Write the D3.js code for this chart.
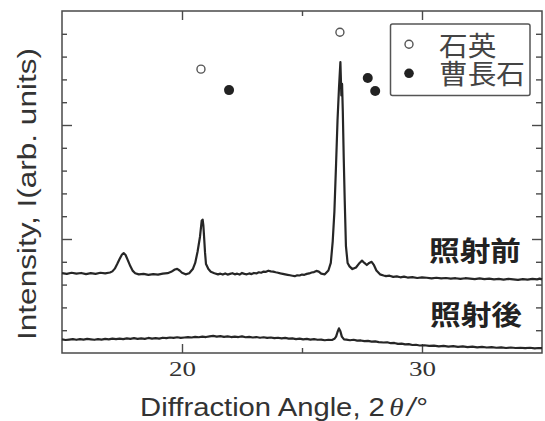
<!DOCTYPE html>
<html>
<head>
<meta charset="utf-8">
<script src="https://cdn.jsdelivr.net/npm/d3@7"></script>
<style>
  html, body { margin: 0; padding: 0; background: #fff; }
  svg { display: block; }
</style>
</head>
<body>
<div id="chart"></div>
<script>
// 照射前 (before irradiation): [2θ, intensity]
const beforeData = [
  [15.0, 3.50], [15.2, 3.47], [15.4, 3.52], [15.6, 3.48], [15.8, 3.51], [16.0, 3.46],
  [16.2, 3.50], [16.4, 3.47], [16.6, 3.52], [16.8, 3.49], [17.0, 3.53], [17.1, 3.58],
  [17.2, 3.70], [17.3, 3.90], [17.4, 4.12], [17.5, 4.32], [17.57, 4.38], [17.65, 4.30],
  [17.75, 4.05], [17.85, 3.80], [17.95, 3.60], [18.05, 3.50], [18.2, 3.45], [18.4, 3.47],
  [18.6, 3.43], [18.8, 3.46], [19.0, 3.44], [19.2, 3.48], [19.4, 3.50], [19.55, 3.56],
  [19.7, 3.66], [19.8, 3.69], [19.9, 3.62], [20.0, 3.52], [20.15, 3.45], [20.3, 3.50],
  [20.45, 3.68], [20.55, 3.95], [20.65, 4.45], [20.75, 5.10], [20.82, 5.80], [20.86, 5.85],
  [20.89, 5.60], [20.92, 5.10], [20.96, 4.40], [21.0, 3.90], [21.1, 3.68], [21.2, 3.56],
  [21.35, 3.50], [21.5, 3.45], [21.6, 3.48], [21.7, 3.44], [21.8, 3.49], [21.9, 3.44],
  [22.0, 3.47], [22.1, 3.50], [22.2, 3.45], [22.3, 3.48], [22.4, 3.44], [22.5, 3.51],
  [22.6, 3.47], [22.7, 3.45], [22.8, 3.49], [22.9, 3.46], [23.0, 3.51], [23.1, 3.49],
  [23.2, 3.54], [23.3, 3.52], [23.4, 3.57], [23.5, 3.56], [23.6, 3.61], [23.7, 3.58],
  [23.8, 3.57], [23.9, 3.54], [24.0, 3.52], [24.1, 3.49], [24.2, 3.47], [24.3, 3.45],
  [24.4, 3.43], [24.5, 3.41], [24.6, 3.39], [24.7, 3.37], [24.8, 3.41], [24.9, 3.40],
  [25.0, 3.44], [25.1, 3.43], [25.2, 3.47], [25.3, 3.49], [25.4, 3.53], [25.5, 3.55],
  [25.6, 3.60], [25.7, 3.57], [25.8, 3.48], [25.95, 3.45], [26.1, 3.62], [26.2, 3.95],
  [26.28, 4.90], [26.35, 6.20], [26.42, 8.30], [26.48, 10.2], [26.54, 11.6], [26.6, 12.76],
  [26.64, 11.3], [26.67, 11.8], [26.7, 10.6], [26.74, 8.5], [26.78, 6.7], [26.83, 4.7],
  [26.9, 3.95], [26.98, 3.80], [27.1, 3.68], [27.25, 3.75], [27.4, 3.95], [27.5, 4.05],
  [27.6, 3.95], [27.7, 3.86], [27.8, 3.95], [27.9, 4.00], [28.0, 3.85], [28.1, 3.62],
  [28.25, 3.45], [28.4, 3.40], [28.5, 3.37], [28.65, 3.39], [28.8, 3.34], [28.95, 3.36],
  [29.1, 3.32], [29.25, 3.35], [29.4, 3.31], [29.6, 3.33], [29.8, 3.29], [30.0, 3.32],
  [30.2, 3.30], [30.4, 3.27], [30.6, 3.30], [30.8, 3.27], [31.0, 3.29], [31.2, 3.26],
  [31.4, 3.28], [31.6, 3.25], [31.8, 3.28], [32.0, 3.26], [32.2, 3.24], [32.4, 3.27],
  [32.6, 3.24], [32.8, 3.26], [33.0, 3.23], [33.2, 3.25], [33.4, 3.22], [33.6, 3.25],
  [33.8, 3.23], [34.0, 3.21], [34.2, 3.24], [34.4, 3.22], [34.6, 3.25], [34.8, 3.23],
  [34.9, 3.26], [35.0, 3.23]
];

// 照射後 (after irradiation)
const afterData = [
  [15.0, 0.60], [15.15, 0.57], [15.3, 0.59], [15.45, 0.61], [15.6, 0.58], [15.75, 0.61],
  [15.9, 0.59], [16.05, 0.62], [16.2, 0.60], [16.35, 0.58], [16.5, 0.61], [16.65, 0.59],
  [16.8, 0.62], [16.95, 0.60], [17.1, 0.63], [17.25, 0.61], [17.4, 0.63], [17.55, 0.61],
  [17.7, 0.64], [17.85, 0.62], [18.0, 0.65], [18.15, 0.62], [18.3, 0.64], [18.45, 0.62],
  [18.6, 0.66], [18.75, 0.63], [18.9, 0.65], [19.05, 0.63], [19.2, 0.67], [19.35, 0.65],
  [19.5, 0.68], [19.65, 0.66], [19.8, 0.69], [19.95, 0.66], [20.1, 0.68], [20.25, 0.70],
  [20.4, 0.68], [20.55, 0.71], [20.7, 0.69], [20.85, 0.72], [21.0, 0.70], [21.15, 0.73],
  [21.3, 0.75], [21.45, 0.72], [21.6, 0.74], [21.75, 0.71], [21.9, 0.73], [22.05, 0.70],
  [22.2, 0.72], [22.35, 0.70], [22.5, 0.73], [22.65, 0.69], [22.8, 0.71], [22.95, 0.68],
  [23.1, 0.70], [23.25, 0.67], [23.4, 0.69], [23.55, 0.66], [23.7, 0.68], [23.85, 0.65],
  [24.0, 0.67], [24.15, 0.64], [24.3, 0.66], [24.45, 0.63], [24.6, 0.64], [24.75, 0.61],
  [24.9, 0.63], [25.05, 0.60], [25.2, 0.62], [25.35, 0.59], [25.5, 0.61], [25.65, 0.58],
  [25.8, 0.59], [25.95, 0.56], [26.1, 0.58], [26.25, 0.57], [26.35, 0.62], [26.42, 0.72],
  [26.48, 0.92], [26.54, 1.08], [26.6, 0.95], [26.66, 0.72], [26.75, 0.60], [26.85, 0.59],
  [27.0, 0.56], [27.15, 0.58], [27.3, 0.54], [27.45, 0.55], [27.6, 0.52], [27.75, 0.53],
  [27.9, 0.50], [28.05, 0.51], [28.2, 0.48], [28.4, 0.46], [28.55, 0.47], [28.7, 0.43],
  [28.85, 0.44], [29.0, 0.40], [29.15, 0.41], [29.3, 0.38], [29.45, 0.39], [29.6, 0.35],
  [29.75, 0.36], [29.9, 0.33], [30.1, 0.34], [30.3, 0.31], [30.5, 0.32], [30.7, 0.29],
  [30.9, 0.31], [31.1, 0.28], [31.3, 0.30], [31.5, 0.27], [31.7, 0.29], [31.9, 0.26],
  [32.1, 0.28], [32.3, 0.25], [32.5, 0.27], [32.7, 0.24], [32.9, 0.26], [33.1, 0.23],
  [33.3, 0.25], [33.5, 0.22], [33.7, 0.24], [33.9, 0.22], [34.1, 0.23], [34.3, 0.21],
  [34.5, 0.23], [34.7, 0.20], [34.85, 0.22], [35.0, 0.21]
];

// peak markers
const quartzPeaks = [[20.79, 12.45], [26.58, 14.07]];
const albitePeaks = [[21.96, 11.53], [27.74, 12.06], [28.05, 11.49]];

const xMajorTicks = [20, 30];
const xMinorTicks = [25];
const yMajorTicks = [5, 10];
const yMinorTicks = [1, 2, 3, 4, 6, 7, 8, 9, 11, 12, 13, 14];

const legendLabels = ['石英', '曹長石'];
const curveLabels = ['照射前', '照射後'];

const width = 545, height = 421;
const plotLeft = 62, plotRight = 542, plotTop = 11, plotBottom = 353;
const axisColor = '#4a4a4a';

const svg = d3.select('#chart').append('svg')
  .attr('width', width)
  .attr('height', height);

const x = d3.scaleLinear().domain([15, 35]).range([plotLeft, plotRight]);
const y = d3.scaleLinear().domain([0, 15]).range([plotBottom, plotTop]);

// stretch a text horizontally so it fills a target width
function stretch(text, target) {
  const len = text.node().getComputedTextLength();
  return target / len;
}

// ticks (inward on all four sides)
function addAxis(axis, tx, ty, values, size) {
  const g = svg.append('g')
    .attr('transform', `translate(${tx},${ty})`)
    .call(axis.tickValues(values).tickSize(-size).tickSizeOuter(0).tickFormat(''));
  g.select('.domain').remove();
  g.selectAll('.tick line').attr('stroke', axisColor).attr('stroke-width', 1.4);
  return g;
}
addAxis(d3.axisBottom(x), 0, plotBottom, xMinorTicks, 5);
addAxis(d3.axisTop(x), 0, plotTop, xMajorTicks, 9);
addAxis(d3.axisTop(x), 0, plotTop, xMinorTicks, 5);
addAxis(d3.axisLeft(y), plotLeft, 0, yMajorTicks, 10);
addAxis(d3.axisLeft(y), plotLeft, 0, yMinorTicks, 5);
addAxis(d3.axisRight(y), plotRight, 0, yMajorTicks, 10);
addAxis(d3.axisRight(y), plotRight, 0, yMinorTicks, 6);

const xAxis = svg.append('g')
  .attr('transform', `translate(0,${plotBottom})`)
  .call(d3.axisBottom(x).tickValues(xMajorTicks).tickSize(-9).tickSizeOuter(0));
xAxis.select('.domain').remove();
xAxis.selectAll('.tick line').attr('stroke', axisColor).attr('stroke-width', 1.4);
xAxis.selectAll('.tick text')
  .attr('y', 23)
  .attr('dy', null)
  .attr('fill', '#333')
  .style('font-family', '"Liberation Serif", "Times New Roman", serif')
  .style('font-size', '22px')
  .each(function () {
    const t = d3.select(this);
    t.attr('transform', `scale(${stretch(t, 27)},1)`);
  });

// frame
svg.append('rect')
  .attr('x', plotLeft).attr('y', plotTop)
  .attr('width', plotRight - plotLeft).attr('height', plotBottom - plotTop)
  .attr('fill', 'none')
  .attr('stroke', axisColor)
  .attr('stroke-width', 1.5);

// curves
const line = d3.line()
  .x(d => x(d[0]))
  .y(d => y(d[1]));

[beforeData, afterData].forEach(data => {
  svg.append('path')
    .datum(data)
    .attr('d', line)
    .attr('fill', 'none')
    .attr('stroke', '#262626')
    .attr('stroke-width', 2.2)
    .attr('stroke-linejoin', 'round');
});

// markers
svg.selectAll('circle.quartz')
  .data(quartzPeaks)
  .enter().append('circle')
  .attr('class', 'quartz')
  .attr('cx', d => x(d[0]))
  .attr('cy', d => y(d[1]))
  .attr('r', 4)
  .attr('fill', '#fff')
  .attr('stroke', '#555')
  .attr('stroke-width', 1.4);

svg.selectAll('circle.albite')
  .data(albitePeaks)
  .enter().append('circle')
  .attr('class', 'albite')
  .attr('cx', d => x(d[0]))
  .attr('cy', d => y(d[1]))
  .attr('r', 5)
  .attr('fill', '#222');

// legend
svg.append('rect')
  .attr('x', 390.5).attr('y', 24)
  .attr('width', 139.5).attr('height', 71.5)
  .attr('rx', 2)
  .attr('fill', '#fff')
  .attr('stroke', '#555')
  .attr('stroke-width', 1.5);

svg.append('circle')
  .attr('cx', 409).attr('cy', 44.3).attr('r', 4)
  .attr('fill', '#fff').attr('stroke', '#555').attr('stroke-width', 1.4);
svg.append('circle')
  .attr('cx', 409).attr('cy', 73.3).attr('r', 4.8)
  .attr('fill', '#222');

const cjk = '"Noto Sans CJK JP", "Noto Sans CJK SC", sans-serif';
// both legend entries in one text block, one line each
const legendText = svg.append('g').attr('transform', 'translate(439,0)')
  .append('text')
  .attr('fill', '#444')
  .style('font-family', cjk)
  .style('font-size', '27px');
const legendBaselines = [56, 84];
const legendLines = legendText.selectAll('tspan')
  .data(legendLabels)
  .enter().append('tspan')
  .attr('x', 0)
  .attr('y', (d, i) => legendBaselines[i])
  .text(d => d);
const longest = legendLines.nodes()[1].getComputedTextLength();
legendText.attr('transform', `scale(${86 / longest},1)`);

// curve labels
const curveLabelPos = [[429, 260.5], [430, 324.8]];
curveLabels.forEach((label, i) => {
  const [lx, ly] = curveLabelPos[i];
  const g = svg.append('g').attr('transform', `translate(${lx},${ly})`);
  const t = g.append('text')
    .text(label)
    .attr('fill', '#222')
    .style('font-family', cjk)
    .style('font-weight', 'bold')
    .style('font-size', '27px');
  t.attr('transform', `scale(${stretch(t, 92)},1)`);
});

// axis titles
const sans = '"Liberation Sans", Arial, sans-serif';
const xTitle = svg.append('g').attr('transform', 'translate(283.5,416)')
  .append('text')
  .attr('text-anchor', 'middle')
  .attr('fill', '#333')
  .style('font-family', sans)
  .style('font-size', '26px');
xTitle.append('tspan').text('Diffraction Angle, 2');
xTitle.append('tspan')
  .attr('dx', 4)
  .style('font-family', '"Liberation Serif", "Times New Roman", serif')
  .style('font-style', 'italic')
  .text('θ');
xTitle.append('tspan')
  .attr('dx', 3)
  .style('font-style', 'italic')
  .text('/°');
xTitle.attr('transform', `scale(${stretch(xTitle, 279)},1)`);

const yTitle = svg.append('g').attr('transform', 'translate(35.5,194) rotate(-90)')
  .append('text')
  .text('Intensity, I(arb. units)')
  .attr('text-anchor', 'middle')
  .attr('fill', '#333')
  .style('font-family', sans)
  .style('font-size', '26px');
yTitle.attr('transform', `scale(${stretch(yTitle, 292)},1)`);
</script>
</body>
</html>
